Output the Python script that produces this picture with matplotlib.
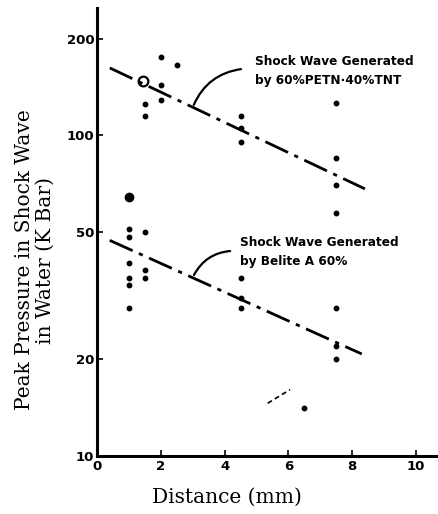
import numpy as np
import matplotlib.pyplot as plt

# PETN/TNT shots (upper group)
petn_x = [2.0, 2.5, 2.0, 2.0, 1.5, 1.5, 4.5, 4.5, 4.5, 7.5, 7.5, 7.5, 7.5]
petn_y = [175, 166, 143, 129, 125, 115, 115, 105, 95, 126, 85, 70, 57]
petn_open_x = [1.45]
petn_open_y = [148]
petn_line_x = [0.4, 8.4]
petn_line_y = [162, 68]

# Belite A 60% shots (lower group)
belite_x = [1.0, 1.0, 1.5, 1.0, 1.0, 1.0, 1.0, 1.5, 1.5, 4.5, 4.5, 4.5, 7.5, 7.5, 7.5, 6.5]
belite_y = [51, 48, 50, 40, 36, 34, 29, 38, 36, 36, 31, 29, 29, 22, 20, 14.1]
belite_big_x = [1.0]
belite_big_y = [64]
belite_line_x = [0.4, 8.3]
belite_line_y = [47, 20.8]

# stray stroke in the scan
stray_x = [5.35, 6.05]
stray_y = [14.6, 16.1]

xticks = [0, 2, 4, 6, 8, 10]
yticks = [10, 20, 50, 100, 200]

fig = plt.figure(figsize=(4.38, 5.14), dpi=100)
ax = fig.add_axes([0.2215, 0.1128, 0.7785, 0.8716])
ax.set_yscale('log')
ax.set_xlim(0, 10.69)
ax.set_ylim(10, 249)

dash = (0, (9, 2.5, 1.5, 2.5))
ax.plot(petn_line_x, petn_line_y, color='black', lw=2.0, linestyle=dash)
ax.plot(belite_line_x, belite_line_y, color='black', lw=2.0, linestyle=dash)
ax.plot(stray_x, stray_y, color='black', lw=1.2, linestyle=(0, (3, 2)))

ax.plot(petn_x, petn_y, 'o', color='black', ms=3.2)
ax.plot(petn_open_x, petn_open_y, 'o', mfc='none', mec='black', mew=1.6, ms=7)
ax.plot(belite_x, belite_y, 'o', color='black', ms=3.2)
ax.plot(belite_big_x, belite_big_y, 'o', color='black', ms=6)

ax.spines['top'].set_visible(False)
ax.spines['right'].set_visible(False)
ax.spines['left'].set_linewidth(2.2)
ax.spines['bottom'].set_linewidth(2.2)

ax.set_xticks(xticks)
ax.set_xticklabels([str(t) for t in xticks])
ax.set_yticks(yticks)
ax.set_yticklabels([str(t) for t in yticks])
ax.minorticks_off()
ax.tick_params(axis='both', direction='in', length=4, width=1.2, labelsize=9.5)
ax.tick_params(axis='x', pad=3)
ax.tick_params(axis='y', pad=2)
for lab in ax.get_xticklabels() + ax.get_yticklabels():
    lab.set_fontweight('bold')

ax.set_xlabel('Distance (mm)', family='DejaVu Serif', fontsize=14.5)
ax.xaxis.set_label_coords(0.381, -0.07)
ax.set_ylabel('Peak Pressure in Shock Wave\nin Water (K Bar)', family='DejaVu Serif',
              fontsize=14.5, linespacing=1.15)
ax.yaxis.set_label_coords(-0.123, 0.4375)

ax.text(4.95, 158, 'Shock Wave Generated\nby 60%PETN\u00b740%TNT', fontsize=8.7,
        fontweight='bold', ha='left', va='center', linespacing=1.6)
ax.annotate('', xy=(3.0, 122), xytext=(4.6, 161),
            arrowprops=dict(arrowstyle='-', lw=1.6, color='black',
                            connectionstyle='arc3,rad=0.3'))

ax.text(4.48, 43.3, 'Shock Wave Generated\nby Belite A 60%', fontsize=8.7,
        fontweight='bold', ha='left', va='center', linespacing=1.6)
ax.annotate('', xy=(3.0, 36), xytext=(4.26, 43.6),
            arrowprops=dict(arrowstyle='-', lw=1.6, color='black',
                            connectionstyle='arc3,rad=0.3'))

fig.savefig('out.png', dpi=100)
